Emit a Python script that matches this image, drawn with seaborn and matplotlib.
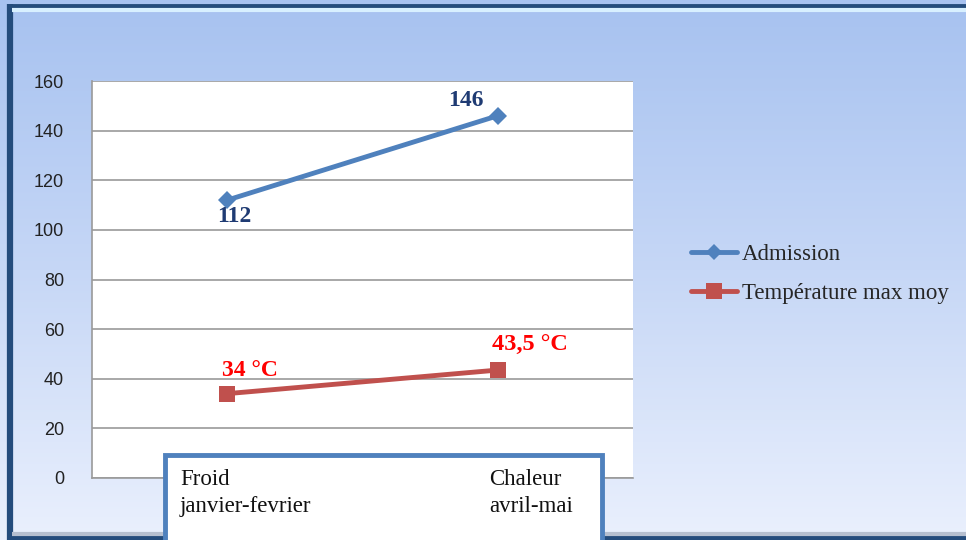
import numpy as np
import pandas as pd
import seaborn as sns
import matplotlib.pyplot as plt
from matplotlib.patches import Rectangle
from matplotlib.lines import Line2D
from matplotlib.colors import LinearSegmentedColormap

# data
periods = ["Froid\njanvier-fevrier", "Chaleur\navril-mai"]
admission = [112, 146]
temperature = [34, 43.5]
temp_labels = ["34 °C", "43,5 °C"]
series_names = ["Admission", "Température max moy"]
y_ticks = [0, 20, 40, 60, 80, 100, 120, 140, 160]

blue = "#4f81bd"
red = "#c0504d"

df = pd.DataFrame({
    "pos": [0, 1, 0, 1],
    "value": admission + temperature,
    "serie": [series_names[0]] * 2 + [series_names[1]] * 2,
})

sns.set_theme(style="white")
plt.rcParams["font.family"] = ["Liberation Serif", "DejaVu Serif"]

fig = plt.figure(figsize=(9.66, 5.4), dpi=100)
W, H = 966, 540

# gradient background + frame
bg = fig.add_axes([0, 0, 1, 1], zorder=-10)
grad = np.linspace(0, 1, 256)[:, None]
cmap = LinearSegmentedColormap.from_list("bg", ["#a7c2f0", "#c6d7f6", "#eaf0fd"])
bg.imshow(grad, aspect="auto", cmap=cmap, extent=[0, 1, 0, 1], origin="upper")
bg.set_xlim(0, 1)
bg.set_ylim(0, 1)
bg.axis("off")
bg.plot([9.5 / W, 9.5 / W], [0, 1 - 4 / H], color="#244c7c", lw=4.5, solid_capstyle="butt")
bg.plot([7 / W, 1], [1 - 6 / H, 1 - 6 / H], color="#244c7c", lw=3.5, solid_capstyle="butt")
bg.plot([12 / W, 1], [1 - 10 / H, 1 - 10 / H], color="#d8f0ff", lw=3, solid_capstyle="butt")
bg.plot([12 / W, 1], [2 / H, 2 / H], color="#244c7c", lw=3, solid_capstyle="butt")
bg.plot([12 / W, 1], [6 / H, 6 / H], color="#b6bfcf", lw=3, solid_capstyle="butt")

ax = fig.add_axes([92 / W, 1 - 478 / H, (633 - 92) / W, (478 - 81) / H])
ax.set_facecolor("white")
sns.lineplot(data=df, x="pos", y="value", hue="serie", style="serie",
             palette=[blue, red], markers=["D", "s"], dashes=False,
             markersize=9, linewidth=3.5, markeredgewidth=0, legend=False, ax=ax)
# bigger squares for the temperature series
ax.lines[1].set_markersize(12)

ax.set_xlim(-0.5, 1.5)
ax.set_ylim(0, 160)
ax.set_yticks(y_ticks)
ax.set_yticklabels([str(t) for t in y_ticks], fontfamily="Liberation Sans", fontsize=13, color="#222222")
ax.set_xticks([])
ax.set_xlabel("")
ax.set_ylabel("")
ax.grid(axis="y", color="#9a9a9a", lw=1.2)
ax.tick_params(axis="y", length=0, pad=20)
for side in ["top", "right"]:
    ax.spines[side].set_visible(False)
ax.spines["left"].set_color("#9a9a9a")
ax.spines["bottom"].set_color("#9a9a9a")
ax.spines["left"].set_linewidth(1.2)
ax.spines["bottom"].set_linewidth(1.2)

# data labels
ax.annotate(str(admission[0]), (0, admission[0]), xytext=(5, -12), textcoords="offset points",
            ha="center", va="center", color="#1f3b73", fontsize=17, fontweight="bold")
ax.annotate(str(admission[1]), (1, admission[1]), xytext=(-23, 11), textcoords="offset points",
            ha="center", va="center", color="#1f3b73", fontsize=17, fontweight="bold")
ax.annotate(temp_labels[0], (0, temperature[0]), xytext=(-4, 17), textcoords="offset points",
            ha="left", va="center", color="#ff0000", fontsize=17, fontweight="bold")
ax.annotate(temp_labels[1], (1, temperature[1]), xytext=(-4, 18), textcoords="offset points",
            ha="left", va="center", color="#ff0000", fontsize=17.5, fontweight="bold")

# category box at the bottom
fig.patches.append(Rectangle((165 / W, -0.02), (602 - 165) / W, (0.02 + 1 - 455 / H),
                             transform=fig.transFigure, facecolor="white",
                             edgecolor=blue, lw=3.5, zorder=5))
fig.text(180 / W, 1 - 469 / H, periods[0], ha="left", va="top", fontsize=16.5,
         linespacing=1.4, color="#111111", zorder=6)
fig.text(489 / W, 1 - 469 / H, periods[1], ha="left", va="top", fontsize=16.5,
         linespacing=1.4, color="#111111", zorder=6)

# legend
handles = [Line2D([], [], color=blue, lw=3.5, marker="D", markersize=8, markeredgewidth=0),
           Line2D([], [], color=red, lw=3.5, marker="s", markersize=11, markeredgewidth=0)]
fig.legend(handles, series_names, loc="center left", bbox_to_anchor=(682 / W, 1 - 274 / H),
           frameon=False, fontsize=16.5, handlelength=2.0, handletextpad=0.2,
           labelspacing=0.8, borderaxespad=0)

fig.savefig("out.png", dpi=100)
